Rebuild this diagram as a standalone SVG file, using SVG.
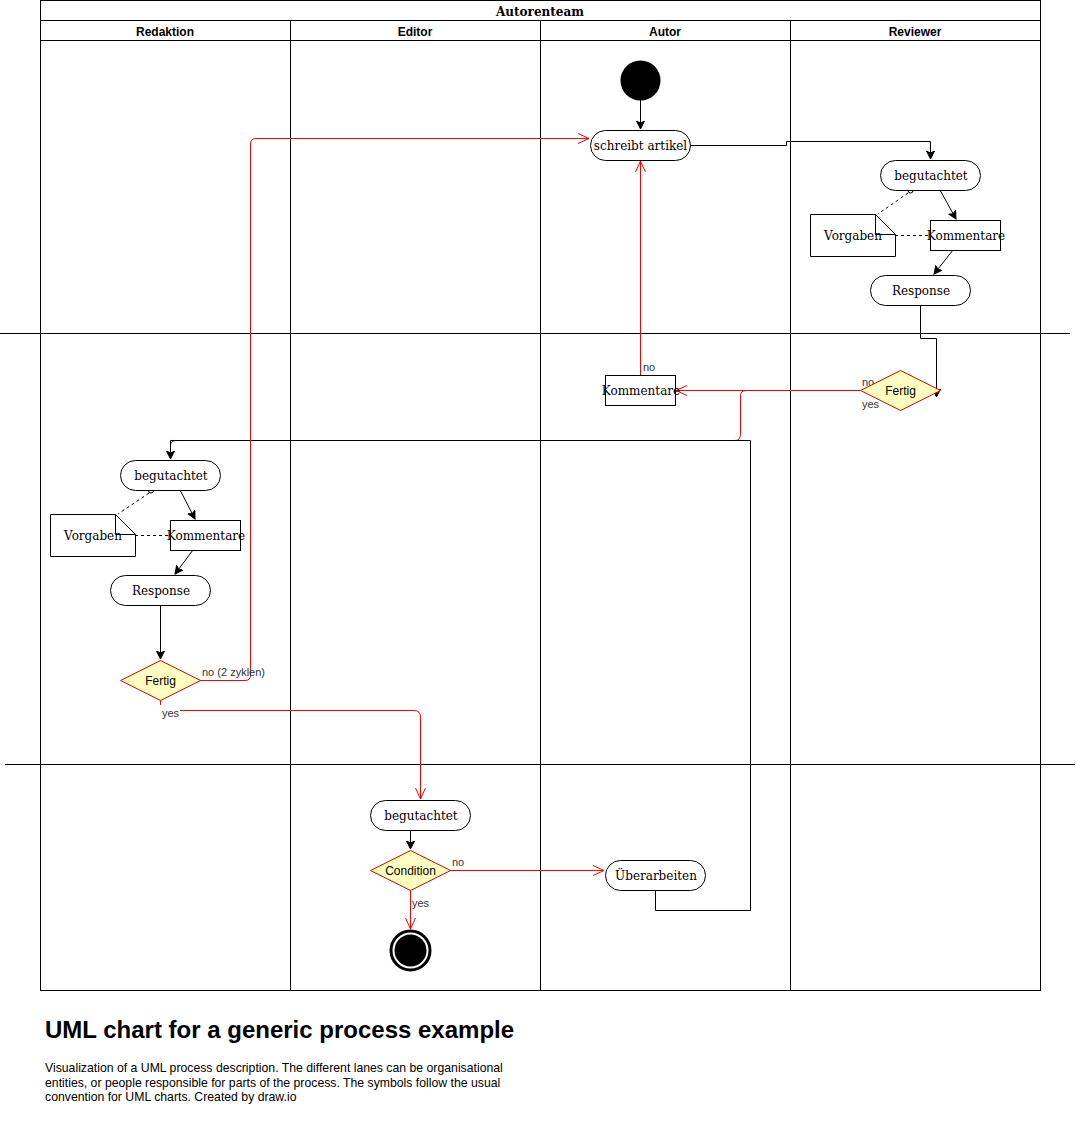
<svg xmlns="http://www.w3.org/2000/svg" width="1076" height="1131" viewBox="0 0 1076 1131">
<style>
.lane{fill:none;stroke:#000;stroke-width:1}
.act{fill:#fff;stroke:#000;stroke-width:1}
.dec{fill:#ffffc0;stroke:#ff0000;stroke-width:1}
.t{font-family:"DejaVu Serif",serif;font-size:12px;fill:#000;text-anchor:middle;dominant-baseline:central}
.s{font-family:"Liberation Sans",Arial,sans-serif;font-size:12px;fill:#000;text-anchor:middle;dominant-baseline:central}
.h{font-family:"Liberation Sans",Arial,sans-serif;font-size:12px;font-weight:bold;fill:#000;text-anchor:middle;dominant-baseline:central}
.lbl{font-family:"Liberation Sans",Arial,sans-serif;font-size:11px;fill:#333}
.blk{fill:none;stroke:#000;stroke-width:1;marker-end:url(#ab)}
.red{fill:none;stroke:#ff0000;stroke-width:1;marker-end:url(#ar)}
.dash{fill:none;stroke:#000;stroke-width:1;stroke-dasharray:3 3}
</style>
<defs>
<marker id="ab" markerUnits="userSpaceOnUse" markerWidth="10" markerHeight="10" refX="8" refY="4" orient="auto"><path d="M0,0 L8,4 L0,8 L2,4 Z" fill="#000" stroke="#000"/></marker>
<marker id="ar" markerUnits="userSpaceOnUse" markerWidth="14" markerHeight="14" refX="11" refY="6" orient="auto"><path d="M0,1 L11,6 L0,11" fill="none" stroke="#ff0000" stroke-width="1"/></marker>
</defs>
<rect width="1076" height="1131" fill="#fff"/>
<g id="pool">
<rect class="lane" x="40.5" y="0.5" width="1000" height="990"/>
<line class="lane" x1="40" y1="20.5" x2="1040" y2="20.5"/>
<line class="lane" x1="40" y1="40.5" x2="1040" y2="40.5"/>
<line class="lane" x1="290.5" y1="20" x2="290.5" y2="990"/>
<line class="lane" x1="540.5" y1="20" x2="540.5" y2="990"/>
<line class="lane" x1="790.5" y1="20" x2="790.5" y2="990"/>
<text x="540" y="11.5" style="font-family:'DejaVu Serif',serif;font-size:12px;font-weight:bold;text-anchor:middle;dominant-baseline:central">Autorenteam</text>
<text class="h" x="165" y="31.5">Redaktion</text>
<text class="h" x="415" y="31.5">Editor</text>
<text class="h" x="665" y="31.5">Autor</text>
<text class="h" x="915" y="31.5">Reviewer</text>
<line class="lane" x1="0" y1="333.5" x2="1070" y2="333.5"/>
<line class="lane" x1="5" y1="764.5" x2="1075" y2="764.5"/>
</g>
<g id="connectors">
<path class="blk" d="M640.5,100 V129"/>
<path class="blk" d="M690,145.5 H786.5 V141.5 H930.5 V159"/>
<path class="blk" d="M940,190 L956,219"/>
<path class="blk" d="M953,250 L934,274"/>
<path class="dash" d="M908,193 L878,214"/>
<path class="dash" d="M895,235.5 H930"/>
<path class="blk" d="M920.5,305 V338.5 H936.5 V397"/>
<path class="red" d="M860,390.5 H676"/>
<path class="red" d="M640.5,375 V161"/>
<path fill="none" stroke="#ff0000" d="M860,390.5 H746 Q740.5,390.5 740.5,396 V434 Q740.5,440.5 735,440.5 H176 Q170.5,440.5 170.5,446 V458"/>
<path class="blk" d="M655.5,890 V910.5 H750.5 V440.5 H170.5 V459"/>
<path class="blk" d="M180,490 L195,519"/>
<path class="blk" d="M193,550 L175,574"/>
<path class="dash" d="M149,493 L118,514"/>
<path class="dash" d="M135,535.5 H170"/>
<path class="blk" d="M160.5,605 V659"/>
<path class="red" d="M200,680.5 H245 Q250.5,680.5 250.5,675 V144 Q250.5,138.5 256,138.5 H589"/>
<path fill="none" stroke="#ff0000" d="M160.5,700 V705"/>
<path class="red" d="M180,710.5 H414 Q420.5,710.5 420.5,717 V799"/>
<path class="blk" d="M410.5,830 V849"/>
<path class="red" d="M450,870.5 H604"/>
<path class="red" d="M410.5,890 V929"/>
<circle cx="910.5" cy="190.5" r="2.5" fill="#fff" stroke="#000"/>
<circle cx="151" cy="490.5" r="2.5" fill="#fff" stroke="#000"/>
<text class="lbl" x="862" y="386">no</text>
<text class="lbl" x="862" y="408">yes</text>
<text class="lbl" x="643" y="371">no</text>
<text class="lbl" x="202" y="676">no (2 zyklen)</text>
<text class="lbl" x="162" y="717">yes</text>
<text class="lbl" x="452" y="866">no</text>
<text class="lbl" x="412" y="907">yes</text>
</g>
<g id="start"><circle cx="640.5" cy="80.5" r="20" fill="#000"/></g>
<g id="schreibt"><rect class="act" x="590.5" y="130.5" width="100" height="30" rx="15"/><text class="t" x="640.5" y="145.5">schreibt artikel</text></g>
<g id="rev-begutachtet"><rect class="act" x="880.5" y="160.5" width="100" height="30" rx="15"/><text class="t" x="931" y="175.5">begutachtet</text></g>
<g id="rev-vorgaben"><path class="act" d="M810.5,214.5 H875.5 L895.5,234.5 V256.5 H810.5 Z"/><path fill="none" stroke="#000" d="M875.5,214.5 V234.5 H895.5"/><text class="t" x="853" y="235.5">Vorgaben</text></g>
<g id="rev-kommentare"><rect class="act" x="930.5" y="220.5" width="70" height="30"/><text class="t" x="966" y="235.5">Kommentare</text></g>
<g id="rev-response"><rect class="act" x="870.5" y="275.5" width="100" height="30" rx="15"/><text class="t" x="921" y="290.5">Response</text></g>
<g id="rev-fertig"><path class="dec" d="M860.5,390.5 L900.5,370.5 L940.5,390.5 L900.5,410.5 Z"/><text class="s" x="900.5" y="390.5">Fertig</text></g>
<g id="aut-kommentare"><rect class="act" x="605.5" y="375.5" width="70" height="30"/><text class="t" x="641" y="390.5">Kommentare</text></g>
<g id="red-begutachtet"><rect class="act" x="120.5" y="460.5" width="100" height="30" rx="15"/><text class="t" x="171" y="475.5">begutachtet</text></g>
<g id="red-vorgaben"><path class="act" d="M50.5,514.5 H115.5 L135.5,534.5 V556.5 H50.5 Z"/><path fill="none" stroke="#000" d="M115.5,514.5 V534.5 H135.5"/><text class="t" x="93" y="535.5">Vorgaben</text></g>
<g id="red-kommentare"><rect class="act" x="170.5" y="520.5" width="70" height="30"/><text class="t" x="206" y="535.5">Kommentare</text></g>
<g id="red-response"><rect class="act" x="110.5" y="575.5" width="100" height="30" rx="15"/><text class="t" x="161" y="590.5">Response</text></g>
<g id="red-fertig"><path class="dec" d="M120.5,680.5 L160.5,660.5 L200.5,680.5 L160.5,700.5 Z"/><text class="s" x="160.5" y="680.5">Fertig</text></g>
<g id="ed-begutachtet"><rect class="act" x="370.5" y="800.5" width="100" height="30" rx="15"/><text class="t" x="421" y="815.5">begutachtet</text></g>
<g id="ed-condition"><path class="dec" d="M370.5,870.5 L410.5,850.5 L450.5,870.5 L410.5,890.5 Z"/><text class="s" x="410.5" y="870.5">Condition</text></g>
<g id="end"><circle cx="410.5" cy="950.5" r="19.5" fill="#fff" stroke="#000" stroke-width="3"/><circle cx="410.5" cy="950.5" r="16" fill="#000"/></g>
<g id="ueberarbeiten"><rect class="act" x="605.5" y="860.5" width="100" height="30" rx="15"/><text class="t" x="656" y="875.5">Überarbeiten</text></g>
<g id="caption">
<text x="45" y="1038" style="font-family:'Liberation Sans',Arial,sans-serif;font-size:24px;font-weight:bold">UML chart for a generic process example</text>
<text style="font-family:'Liberation Sans',Arial,sans-serif;font-size:12.25px"><tspan x="45" y="1072">Visualization of a UML process description. The different lanes can be organisational</tspan><tspan x="45" y="1086.5">entities, or people responsible for parts of the process. The symbols follow the usual</tspan><tspan x="45" y="1101">convention for UML charts. Created by draw.io</tspan></text>
</g>
</svg>
